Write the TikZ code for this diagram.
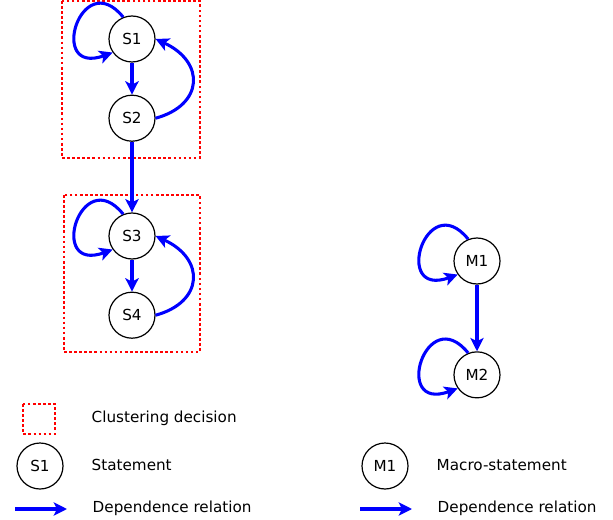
\documentclass[tikz,border=0pt]{standalone}
\usepackage{fontspec}
\setmainfont{DejaVu Sans}
\usepackage{tikz}
\usetikzlibrary{arrows.meta, positioning}
\usepackage{xcolor}

\begin{document}
\begin{tikzpicture}[
x=0.75pt, y=-0.75pt,
node distance=24pt,
font=\fontsize{11.4}{13.5}\selectfont,
stmt/.style={draw,
circle,
line width=0.9pt,
minimum size=34.5pt,
inner sep=0pt},
cluster/.style={draw=red,
line width=2pt,
dash pattern=on 2pt off 1.8pt},
deparrow/.style={-{Stealth[length=10pt, width=10pt, inset=2.5pt]}, blue, line width=2.3pt},
legtext/.style={anchor=west}
]

\useasboundingbox (0,0) rectangle (613,520);

% clustering decisions
\draw[cluster] (62,1) rectangle (200,158);
\draw[cluster] (64,195) rectangle (200,352);

% statements
\node[stmt] (S1) at (132,39) {S1};
\node[stmt, below=of S1] (S2) {S2};
\node[stmt] (S3) at (132,236) {S3};
\node[stmt, below=of S3] (S4) {S4};

% macro-statements
\node[stmt] (M1) at (477,261) {M1};
\node[stmt, below=50pt of M1] (M2) {M2};

% dependences
\draw[deparrow] (S1.112) .. controls +(-42,-52) and +(-66,24) .. (S1.215);
\draw[deparrow] (S1) -- (S2);
\draw[deparrow] (S2.east) .. controls +(48,-13) and +(50,23) .. (S1.east);
\draw[deparrow] (S2) -- (S3);
\draw[deparrow] (S3.112) .. controls +(-42,-52) and +(-66,24) .. (S3.215);
\draw[deparrow] (S3) -- (S4);
\draw[deparrow] (S4.east) .. controls +(48,-13) and +(50,23) .. (S3.east);
\draw[deparrow] (M1.112) .. controls +(-42,-52) and +(-66,24) .. (M1.215);
\draw[deparrow] (M1) -- (M2);
\draw[deparrow] (M2.112) .. controls +(-42,-52) and +(-66,24) .. (M2.215);

% legend
\draw[cluster] (23,404) rectangle (55,434);
\node[legtext] (tclust) at (87,418) {Clustering decision};
\node[stmt] (legS) at (40,466) {S1};
\node[legtext] (tstmt) at (87,465) {Statement};
\coordinate (a0) at (15,509);
\coordinate (a1) at (67,509);
\draw[deparrow] (a0) -- (a1);
\node[legtext] (tdep) at (88,508) {Dependence relation};
\node[stmt] (legM) at (385,466) {M1};
\node[legtext] (tmacro) at (432,465) {Macro-statement};
\coordinate (b0) at (360,509);
\coordinate (b1) at (412,509);
\draw[deparrow] (b0) -- (b1);
\node[legtext] (tdep2) at (433,508) {Dependence relation};

\end{tikzpicture}
\end{document}
